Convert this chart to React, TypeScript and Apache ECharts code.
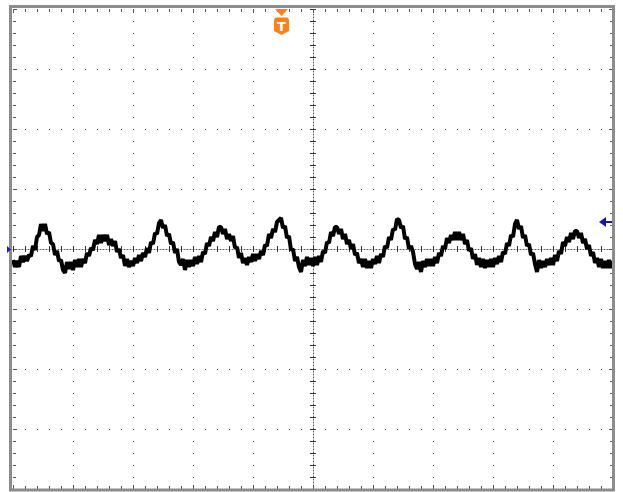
import React, { useEffect, useRef } from "react";
import * as echarts from "echarts";

// Time axis: 60 units per division (10 horizontal divisions), one sample every 2 units
const T_START = -300;
const T_STEP = 2;
// Trace values (units: 60 per vertical division), noise included
const VALUES = [
  -11, -18, -12, -18, -7, -13, -7, -12, -6, -7, 3, -1, 12, 14, 25, 18, 25, 15, 17, 6,
  5, -6, -2, -12, -11, -21, -24, -13, -20, -13, -21, -11, -18, -10, -18, -10, -14, -4, -7, 1,
  -1, 9, 5, 14, 6, 14, 8, 14, 4, 10, 3, 8, -3, 0, -9, -6, -17, -10, -18, -12,
  -17, -9, -14, -6, -12, -4, -8, 1, -4, 7, 5, 16, 15, 26, 29, 21, 24, 13, 15, 5,
  7, -4, 0, -13, -16, -10, -21, -11, -18, -11, -17, -8, -15, -7, -13, -3, -5, 6, 3, 12,
  8, 17, 12, 22, 22, 15, 20, 10, 15, 8, 13, 1, 2, -9, -4, -14, -9, -16, -8, -13,
  -5, -12, -5, -10, -2, -6, 4, 3, 15, 11, 20, 17, 27, 29, 31, 21, 23, 11, 13, -1,
  0, -12, -8, -18, -23, -11, -17, -8, -16, -9, -17, -8, -16, -7, -13, -2, -4, 7, 6, 17,
  13, 22, 22, 15, 20, 10, 15, 5, 9, 0, 5, -6, -4, -14, -10, -18, -10, -19, -12, -19,
  -10, -15, -7, -14, -5, -8, 3, 1, 12, 9, 20, 19, 30, 29, 21, 23, 10, 12, 0, 3,
  -3, -15, -20, -13, -23, -12, -18, -10, -17, -10, -17, -8, -14, -4, -7, 3, 0, 11, 6, 14,
  9, 17, 9, 17, 9, 15, 5, 9, -2, 1, -10, -5, -16, -9, -18, -10, -19, -11, -18, -10,
  -18, -9, -15, -7, -13, -3, -5, 6, 3, 14, 12, 25, 29, 20, 23, 11, 14, 3, 5, -6,
  -4, -15, -23, -11, -19, -12, -18, -10, -16, -9, -16, -6, -12, -2, -5, 7, 3, 12, 7, 16,
  10, 18, 18, 11, 16, 6, 10, 0, 4, -7, -3, -14, -9, -18, -10, -19, -12, -19, -11, -19,
  -12,
];
const X_MIN = -300;
const X_MAX = 300;
const Y_MIN = -240;
const Y_MAX = 240;
const DIV = 60;
const TRIGGER_LABEL = "T";

export default function App() {
  const ref = useRef<HTMLDivElement>(null);
  useEffect(() => {
    document.body.style.margin = "0";
    const chart = echarts.init(ref.current!, undefined, { renderer: "svg" });
    const data = VALUES.map((v, i) => [T_START + i * T_STEP, v]);
    const gridRect = { left: 13, top: 9, width: 600, height: 480 };
    const hidden = { show: false };
    const baseX = { type: "value", min: X_MIN, max: X_MAX, interval: DIV, axisLabel: hidden };
    const baseY = { type: "value", min: Y_MIN, max: Y_MAX, interval: DIV, axisLabel: hidden };
    const gridDots = { show: true, lineStyle: { color: "#3a3a3a", width: 1, type: [1, 11] } };
    const edgeTicks = {
      axisLine: { show: false, onZero: false },
      axisTick: { show: true, inside: true, length: 4, lineStyle: { color: "#555" } },
      minorTick: { show: true, splitNumber: 5, length: 3, lineStyle: { color: "#555" } },
      splitLine: hidden,
    };
    const centerOut = {
      axisLine: { show: false, onZero: true },
      axisTick: { show: true, inside: false, length: 3, lineStyle: { color: "#333" } },
      minorTick: { show: true, splitNumber: 5, length: 3, lineStyle: { color: "#333" } },
      splitLine: hidden,
    };
    const centerIn = {
      axisLine: { onZero: true, lineStyle: { color: "#555", width: 1, type: [1, 2] } },
      axisTick: { show: true, inside: true, length: 3, lineStyle: { color: "#333" } },
      minorTick: { show: true, splitNumber: 5, length: 3, lineStyle: { color: "#333" } },
      splitLine: gridDots,
    };
    chart.setOption({
      animation: false,
      backgroundColor: "#ffffff",
      grid: [
        { ...gridRect },
        { ...gridRect },
        { ...gridRect },
      ],
      xAxis: [
        { ...baseX, gridIndex: 0, ...centerIn },
        { ...baseX, gridIndex: 1, position: "top", ...edgeTicks },
        { ...baseX, gridIndex: 1, position: "bottom", ...edgeTicks },
        { ...baseX, gridIndex: 2, ...centerOut },
      ],
      yAxis: [
        { ...baseY, gridIndex: 0, ...centerIn },
        { ...baseY, gridIndex: 1, position: "left", ...edgeTicks },
        { ...baseY, gridIndex: 1, position: "right", ...edgeTicks },
        { ...baseY, gridIndex: 2, ...centerOut },
      ],
      series: [
        {
          type: "line",
          xAxisIndex: 0,
          yAxisIndex: 0,
          data,
          showSymbol: false,
          lineStyle: { color: "#000", width: 4, join: "bevel" },
          z: 5,
        },
      ],
      graphic: [
        // instrument frame
        {
          type: "rect",
          shape: { x: 10.5, y: 6.5, width: 603, height: 483.5 },
          style: { fill: "none", stroke: "#8c8c8c", lineWidth: 3 },
          z: 50,
        },
        // trigger position marker
        { type: "polygon", shape: { points: [[275, 9], [288, 9], [281.5, 16]] }, style: { fill: "#f58220" }, z: 100 },
        {
          type: "polygon",
          shape: { points: [[274, 19.5], [275.5, 17.5], [287.5, 17.5], [289, 19.5], [289, 31], [281.5, 35], [274, 31]] },
          style: { fill: "#f58220" },
          z: 100,
        },
        {
          type: "text",
          x: 281.5, y: 26.5,
          style: { text: TRIGGER_LABEL, fill: "#fff", font: "bold 13px 'DejaVu Sans'", align: "center", verticalAlign: "middle" },
          z: 101,
        },
        // trigger level marker
        { type: "polygon", shape: { points: [[599, 222], [606, 217], [606, 227]] }, style: { fill: "#1818a0" }, z: 100 },
        { type: "line", shape: { x1: 605, y1: 222, x2: 612, y2: 222 }, style: { stroke: "#1818a0", lineWidth: 2 }, z: 100 },
        // channel ground marker
        { type: "polygon", shape: { points: [[7, 246], [11, 249.5], [7, 253]] }, style: { fill: "#2020c0" }, z: 100 },
      ],
    });
    return () => chart.dispose();
  }, []);
  return <div ref={ref} style={{ width: 623, height: 492 }} />;
}
